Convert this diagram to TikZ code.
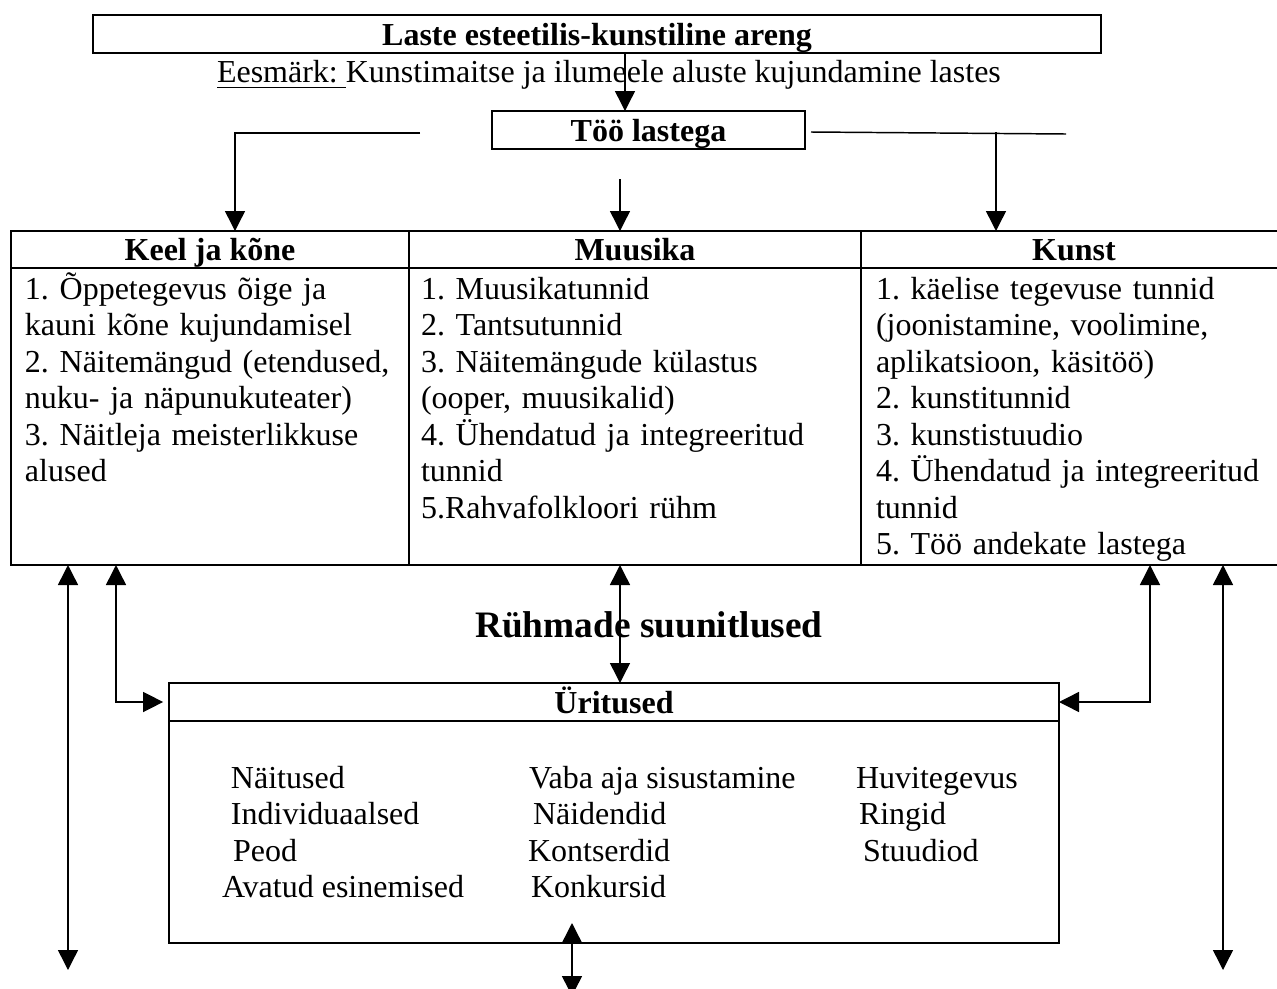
\documentclass[tikz,border=0pt]{standalone}
\usepackage{fontspec}
\setmainfont{Liberation Serif}
\usetikzlibrary{arrows.meta}
\frenchspacing
\newcommand{\pxu}{0.375pt}
\newcommand{\ulined}[1]{\setbox0\hbox{#1}\rlap{\rule[-2.4pt]{\wd0}{0.5pt}}\box0}
\tikzset{
  every node/.style={inner sep=0pt, outer sep=0pt, font=\fontsize{12}{13.7}\selectfont},
  bold/.style={font=\fontsize{12}{13.7}\selectfont\bfseries},
  box/.style={draw, line width=0.8pt, text height=8.25pt, text depth=0pt},
  lst/.style={anchor=base west, align=left, text width=160pt},
  arr/.style={line width=0.55pt, -{Triangle[width=7.5pt,length=7.5pt]}},
  dblarr/.style={line width=0.55pt, {Triangle[width=7.5pt,length=7.5pt]}-{Triangle[width=7.5pt,length=7.5pt]}}
}
\begin{document}
\begin{tikzpicture}[x=0.375pt, y=-0.375pt]
\useasboundingbox (0,0) rectangle (1277,989);
\clip (0,0) rectangle (1277,989);
% top
\node[box, bold, minimum width=1008*\pxu, minimum height=38*\pxu] (title) at (597,34) {Laste esteetilis-kunstiline areng};
\node[anchor=base west] (aim) at (217,82) {\ulined{Eesmärk: }Kunstimaitse ja ilumeele aluste kujundamine lastes};
\node[box, bold, minimum width=313*\pxu, minimum height=38*\pxu] (too) at (648.5,130) {Töö lastega};
% table
\node[box, bold, anchor=north west, minimum width=398*\pxu, minimum height=37*\pxu] (keel) at (11,231) {Keel ja kõne};
\node[box, bold, anchor=north west, minimum width=452*\pxu, minimum height=37*\pxu] (muusika) at (409,231) {Muusika};
\node[box, bold, anchor=north west, minimum width=426*\pxu, minimum height=37*\pxu] (kunst) at (861,231) {Kunst};
\node[box, anchor=north west, minimum width=398*\pxu, minimum height=297*\pxu] (keelbox) at (11,268) {};
\node[box, anchor=north west, minimum width=452*\pxu, minimum height=297*\pxu] (muusbox) at (409,268) {};
\node[box, anchor=north west, minimum width=426*\pxu, minimum height=297*\pxu] (kunstbox) at (861,268) {};
\node[lst] (keeltxt) at (25,299) {1. Õppetegevus õige ja\\kauni kõne kujundamisel\\2. Näitemängud (etendused,\\nuku- ja näpunukuteater)\\3. Näitleja meisterlikkuse\\alused};
\node[lst] (muustxt) at (421,299) {1. Muusikatunnid\\2. Tantsutunnid\\3. Näitemängude külastus\\(ooper, muusikalid)\\4. Ühendatud ja integreeritud\\tunnid\\5.Rahvafolkloori rühm};
\node[lst] (kunsttxt) at (876,299) {1. käelise tegevuse tunnid\\(joonistamine, voolimine,\\aplikatsioon, käsitöö)\\2. kunstitunnid\\3. kunstistuudio\\4. Ühendatud ja integreeritud\\tunnid\\5. Töö andekate lastega};
% events
\node[anchor=base, font=\fontsize{14}{16}\selectfont\bfseries] (ryhm) at (649,637) {Rühmade suunitlused};
\node[box, bold, anchor=north west, minimum width=890*\pxu, minimum height=38*\pxu] (urhead) at (169,683) {Üritused};
\node[box, anchor=north west, minimum width=890*\pxu, minimum height=222*\pxu] (urbody) at (169,721) {};
\foreach \x/\y/\t [count=\i] in {231/788/Näitused, 231/824/Individuaalsed, 233/861/Peod, 222/897/Avatud esinemised,
  529/788/Vaba aja sisustamine, 533/824/Näidendid, 528/861/Kontserdid, 531/897/Konkursid,
  856/788/Huvitegevus, 859/824/Ringid, 863/861/Stuudiod}
  \node[anchor=base west] (item\i) at (\x,\y) {\t};
% connectors
\coordinate (lb) at (420,133);
\coordinate (rs) at (811,132);
\coordinate (re) at (1066,134);
\coordinate (mt) at (620,179);
\coordinate (ll) at (68,970);
\coordinate (rr) at (1223,970);
\coordinate (bt) at (572,923);
\coordinate (bb) at (572,996);
\coordinate (xa) at (625,0);
\coordinate (xk) at (235,0);
\coordinate (xr) at (996,0);
\coordinate (xl) at (116,0);
\coordinate (xm) at (620,0);
\coordinate (xp) at (1150,0);
\draw[arr] (title.south -| xa) -- (too.north -| xa);
\draw[arr] (lb) -- (lb -| xk) -- (keel.north -| xk);
\draw[arr] (mt) -- (muusika.north -| mt);
\draw[line width=0.55pt] (rs) -- (re);
\draw[arr] (rs -| xr) -- (kunst.north -| xr);
\draw[dblarr] (keelbox.south -| ll) -- (ll);
\draw[dblarr, shorten >=2.2pt] (keelbox.south -| xl) -- (urhead.west -| xl) -- (urhead.west);
\draw[dblarr] (muusbox.south -| xm) -- (urhead.north -| xm);
\draw[dblarr] (kunstbox.south -| xp) -- (urhead.east -| xp) -- (urhead.east);
\draw[dblarr] (kunstbox.south -| rr) -- (rr);
\draw[dblarr] (bt) -- (bb);
\end{tikzpicture}
\end{document}
